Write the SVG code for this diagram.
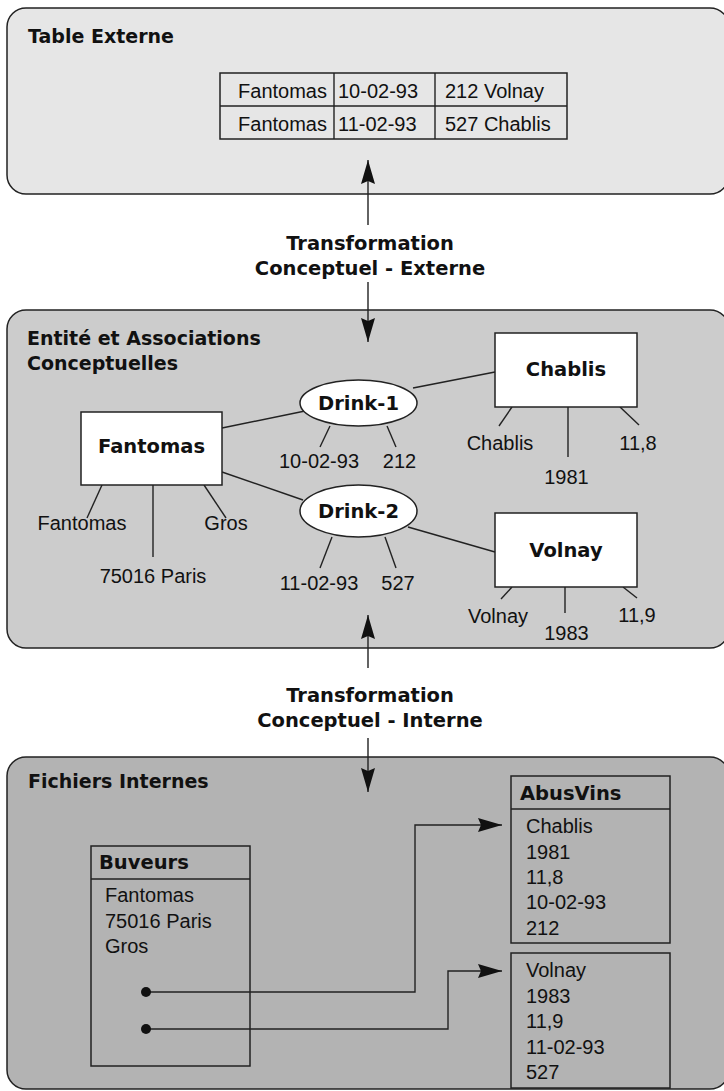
<svg xmlns="http://www.w3.org/2000/svg" width="724" height="1091" viewBox="0 0 724 1091">
<defs>
<style>
.panel{stroke:#222;stroke-width:1.5}
.box{fill:#fff;stroke:#222;stroke-width:1.5}
.fbox{fill:none;stroke:#222;stroke-width:1.5}
.ln{stroke:#222;stroke-width:1.4;fill:none}
.t{font-family:"Liberation Sans",Arial,sans-serif;font-size:20px;fill:#111}
.b{font-family:"DejaVu Sans","Liberation Sans",sans-serif;font-weight:bold;font-size:19.5px;fill:#111}
.h{font-family:"DejaVu Sans","Liberation Sans",sans-serif;font-weight:bold;font-size:19px;fill:#111}
.m{text-anchor:middle}
</style>
<marker id="ah" markerWidth="24" markerHeight="14" refX="24" refY="7" orient="auto" markerUnits="userSpaceOnUse">
<path d="M0,0 L24,7 L0,14 L3,7 z" fill="#111"/>
</marker>
</defs>
<rect width="724" height="1091" fill="#fff"/>

<g id="panel-externe">
<rect class="panel" x="7" y="8" width="722" height="186" rx="19" fill="#e6e6e6"/>
<text class="h" x="28" y="43">Table Externe</text>
</g>
<g id="table-externe">
<rect class="fbox" x="220" y="73" width="347" height="66"/>
<line class="ln" x1="220" y1="106" x2="567" y2="106"/>
<line class="ln" x1="334" y1="73" x2="334" y2="139"/>
<line class="ln" x1="435" y1="73" x2="435" y2="139"/>
<text class="t" x="327" y="98" text-anchor="end">Fantomas</text>
<text class="t" x="338" y="98">10-02-93</text>
<text class="t" x="445" y="98">212 Volnay</text>
<text class="t" x="327" y="131" text-anchor="end">Fantomas</text>
<text class="t" x="338" y="131">11-02-93</text>
<text class="t" x="445" y="131">527 Chablis</text>
</g>

<g id="panel-conceptuel">
<rect class="panel" x="7" y="310" width="722" height="338" rx="19" fill="#cccccc"/>
<text class="h" x="27" y="345">Entité et Associations</text>
<text class="h" x="27" y="370">Conceptuelles</text>
</g>

<g id="panel-interne">
<rect class="panel" x="7" y="757" width="722" height="332" rx="19" fill="#b3b3b3"/>
<text class="h" x="28" y="788">Fichiers Internes</text>
</g>

<g id="transfo-externe">
<text class="b m" x="370" y="250">Transformation</text>
<text class="b m" x="370" y="275">Conceptuel - Externe</text>
</g>
<g id="transfo-interne">
<text class="b m" x="370" y="702">Transformation</text>
<text class="b m" x="370" y="727">Conceptuel - Interne</text>
</g>

<g id="connectors">
<line class="ln" x1="368" y1="225" x2="368" y2="160" marker-end="url(#ah)"/>
<line class="ln" x1="368" y1="282" x2="368" y2="342" marker-end="url(#ah)"/>
<line class="ln" x1="368" y1="668" x2="368" y2="615" marker-end="url(#ah)"/>
<line class="ln" x1="368" y1="738" x2="368" y2="792" marker-end="url(#ah)"/>
<line class="ln" x1="222" y1="428" x2="305" y2="411"/>
<line class="ln" x1="222" y1="472" x2="303" y2="500"/>
<line class="ln" x1="413" y1="388" x2="495" y2="372"/>
<line class="ln" x1="408" y1="527" x2="495" y2="552"/>
<line class="ln" x1="330" y1="426" x2="320" y2="447"/>
<line class="ln" x1="387" y1="426" x2="396" y2="447"/>
<line class="ln" x1="332" y1="537" x2="320" y2="568"/>
<line class="ln" x1="385" y1="537" x2="396" y2="568"/>
<line class="ln" x1="102" y1="485" x2="87" y2="518"/>
<line class="ln" x1="153" y1="485" x2="153" y2="557"/>
<line class="ln" x1="204" y1="485" x2="226" y2="518"/>
<line class="ln" x1="512" y1="407" x2="499" y2="426"/>
<line class="ln" x1="568" y1="407" x2="568" y2="457"/>
<line class="ln" x1="620" y1="407" x2="639" y2="425"/>
<line class="ln" x1="512" y1="587" x2="501" y2="599"/>
<line class="ln" x1="565" y1="587" x2="565" y2="613"/>
<line class="ln" x1="623" y1="587" x2="637" y2="598"/>
<path class="ln" d="M146,992 H415 V825 H502" marker-end="url(#ah)"/>
<path class="ln" d="M146,1029 H448 V971 H502" marker-end="url(#ah)"/>
<circle cx="146" cy="992" r="5" fill="#111"/>
<circle cx="146" cy="1029" r="5" fill="#111"/>
</g>

<g id="node-fantomas">
<rect class="box" x="81" y="412" width="141" height="73"/>
<text class="b m" x="151.5" y="453">Fantomas</text>
<text class="t m" x="82" y="530">Fantomas</text>
<text class="t m" x="153" y="583">75016 Paris</text>
<text class="t m" x="226" y="530">Gros</text>
</g>
<g id="node-drink1">
<ellipse class="box" cx="358.5" cy="403" rx="58.5" ry="23"/>
<text class="b m" x="358.5" y="410">Drink-1</text>
<text class="t m" x="319" y="468">10-02-93</text>
<text class="t m" x="399.5" y="468">212</text>
</g>
<g id="node-drink2">
<ellipse class="box" cx="358.5" cy="511" rx="58.5" ry="26"/>
<text class="b m" x="358.5" y="518">Drink-2</text>
<text class="t m" x="319" y="590">11-02-93</text>
<text class="t m" x="398" y="590">527</text>
</g>
<g id="node-chablis">
<rect class="box" x="495" y="333" width="142" height="74"/>
<text class="b m" x="566" y="376">Chablis</text>
<text class="t m" x="500" y="450">Chablis</text>
<text class="t m" x="566.5" y="484">1981</text>
<text class="t m" x="638" y="450">11,8</text>
</g>
<g id="node-volnay">
<rect class="box" x="495" y="513" width="142" height="74"/>
<text class="b m" x="566" y="557">Volnay</text>
<text class="t m" x="498" y="623">Volnay</text>
<text class="t m" x="566.5" y="640">1983</text>
<text class="t m" x="637" y="622">11,9</text>
</g>

<g id="file-buveurs">
<rect class="fbox" x="91" y="846" width="159" height="220"/>
<line class="ln" x1="91" y1="879" x2="250" y2="879"/>
<text class="b" x="99" y="869">Buveurs</text>
<text class="t" x="105" y="902">Fantomas</text>
<text class="t" x="105" y="928">75016 Paris</text>
<text class="t" x="105" y="953">Gros</text>
</g>
<g id="file-abusvins">
<rect class="fbox" x="511" y="776" width="159" height="167"/>
<line class="ln" x1="511" y1="809" x2="670" y2="809"/>
<text class="b" x="520" y="800">AbusVins</text>
<text class="t" x="526" y="833">Chablis</text>
<text class="t" x="526" y="859">1981</text>
<text class="t" x="526" y="884">11,8</text>
<text class="t" x="526" y="909">10-02-93</text>
<text class="t" x="526" y="935">212</text>
</g>
<g id="file-abusvins-2">
<rect class="fbox" x="511" y="953" width="159" height="135"/>
<text class="t" x="526" y="977">Volnay</text>
<text class="t" x="526" y="1003">1983</text>
<text class="t" x="526" y="1028">11,9</text>
<text class="t" x="526" y="1054">11-02-93</text>
<text class="t" x="526" y="1079">527</text>
</g>
</svg>
